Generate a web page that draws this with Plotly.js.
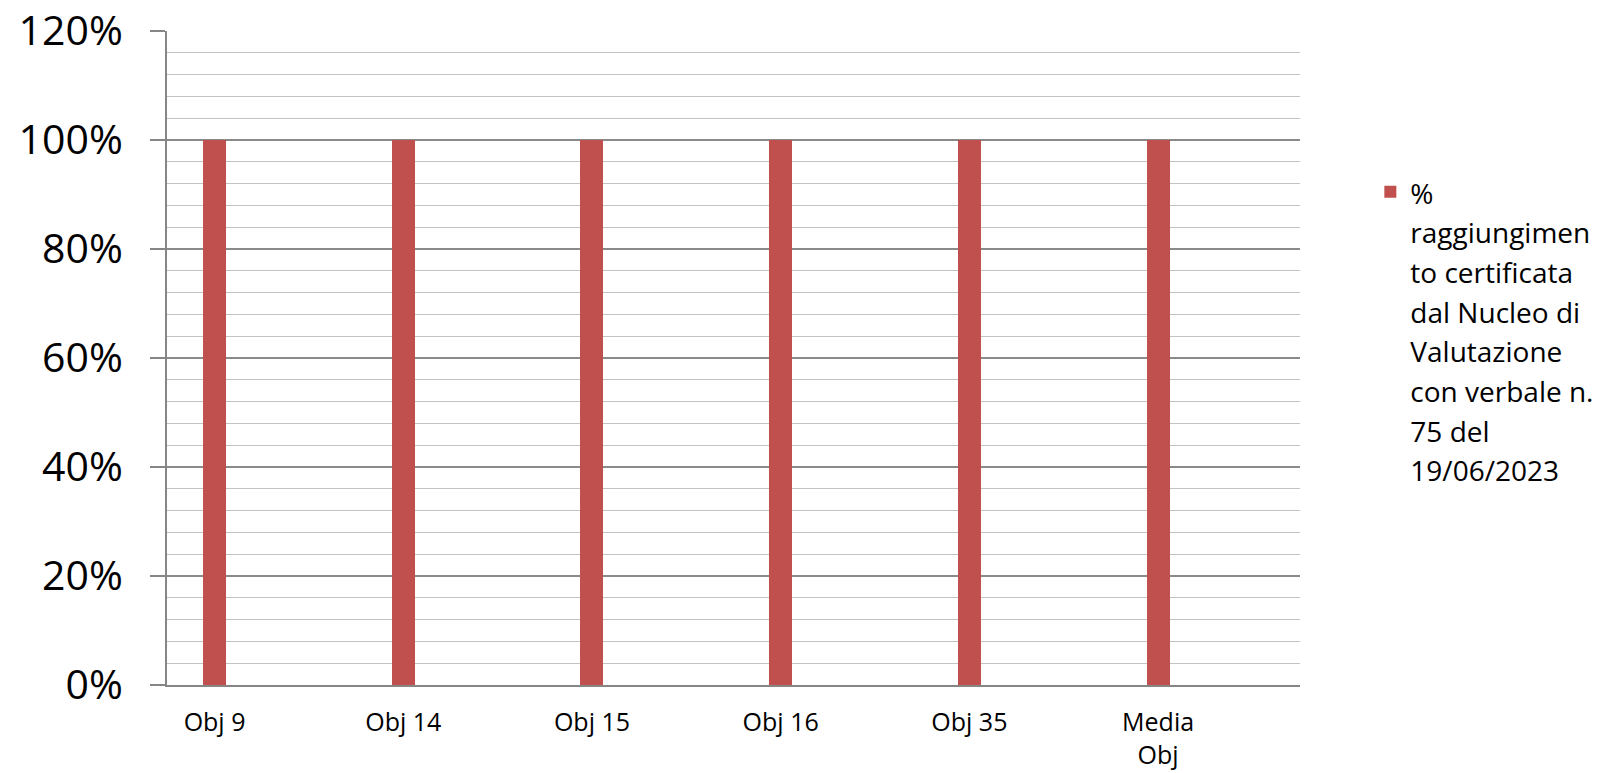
<!DOCTYPE html>
<html>
<head>
<meta charset="utf-8">
<script src="https://cdn.plot.ly/plotly-3.0.1.min.js"></script>
<style>html,body{margin:0;padding:0;background:#fff;}#chart{width:1599px;height:773px;}</style>
</head>
<body>
<div id="chart"></div>
<script>
const categories = ["Obj 9", "Obj 14", "Obj 15", "Obj 16", "Obj 35", "Media<br>Obj"];
const values = [1.0, 1.0, 1.0, 1.0, 1.0, 1.0];
const seriesNameLines = ["%", "raggiungimen", "to certificata", "dal Nucleo di", "Valutazione", "con verbale n.", "75 del", "19/06/2023"];
const yTickVals = [0, 0.2, 0.4, 0.6, 0.8, 1.0, 1.2];
const yTickText = ["0%", "20%", "40%", "60%", "80%", "100%", "120%"];

const seriesName = seriesNameLines.map(s => '<span style="font-size:28px">' + s + '</span>').join('<br>');

const trace = {
  type: 'bar',
  x: categories,
  y: values,
  name: seriesName,
  width: 0.122,
  marker: {color: '#c0504d'},
  showlegend: true,
  hoverinfo: 'x+y'
};

const layout = {
  width: 1599, height: 773,
  margin: {l: 167, r: 299, t: 31, b: 88, pad: 0},
  paper_bgcolor: '#ffffff', plot_bgcolor: '#ffffff',
  font: {family: '"Open Sans", sans-serif', color: '#000000'},
  bargap: 0,
  xaxis: {
    type: 'category',
    range: [-0.252, 5.752],
    showgrid: false,
    showline: true, linecolor: '#868686', linewidth: 2,
    ticks: '',
    tickfont: {size: 25, color: '#000'},
    ticklabelstandoff: 14,
    zeroline: false
  },
  yaxis: {
    range: [0, 1.2],
    tickvals: yTickVals,
    ticktext: yTickText,
    showgrid: true, gridcolor: '#8a8a8a', gridwidth: 1.5,
    showline: true, linecolor: '#868686', linewidth: 2,
    ticks: 'outside', ticklen: 15, tickcolor: '#868686', tickwidth: 1.5,
    tickfont: {size: 41, color: '#000'},
    ticklabelstandoff: 19,
    zeroline: false,
    minor: {dtick: 0.04, tick0: 0, showgrid: true, gridcolor: '#c3c3c3', gridwidth: 1.2, ticks: ''}
  },
  legend: {
    xref: 'container', yref: 'container',
    x: 0.857, y: 0.786, xanchor: 'left', yanchor: 'top',
    valign: 'top',
    font: {size: 30.5, color: '#000'},
    bgcolor: 'rgba(0,0,0,0)'
  },
  showlegend: true
};

Plotly.newPlot('chart', [trace], layout, {displayModeBar: false, staticPlot: true});
</script>
</body>
</html>
